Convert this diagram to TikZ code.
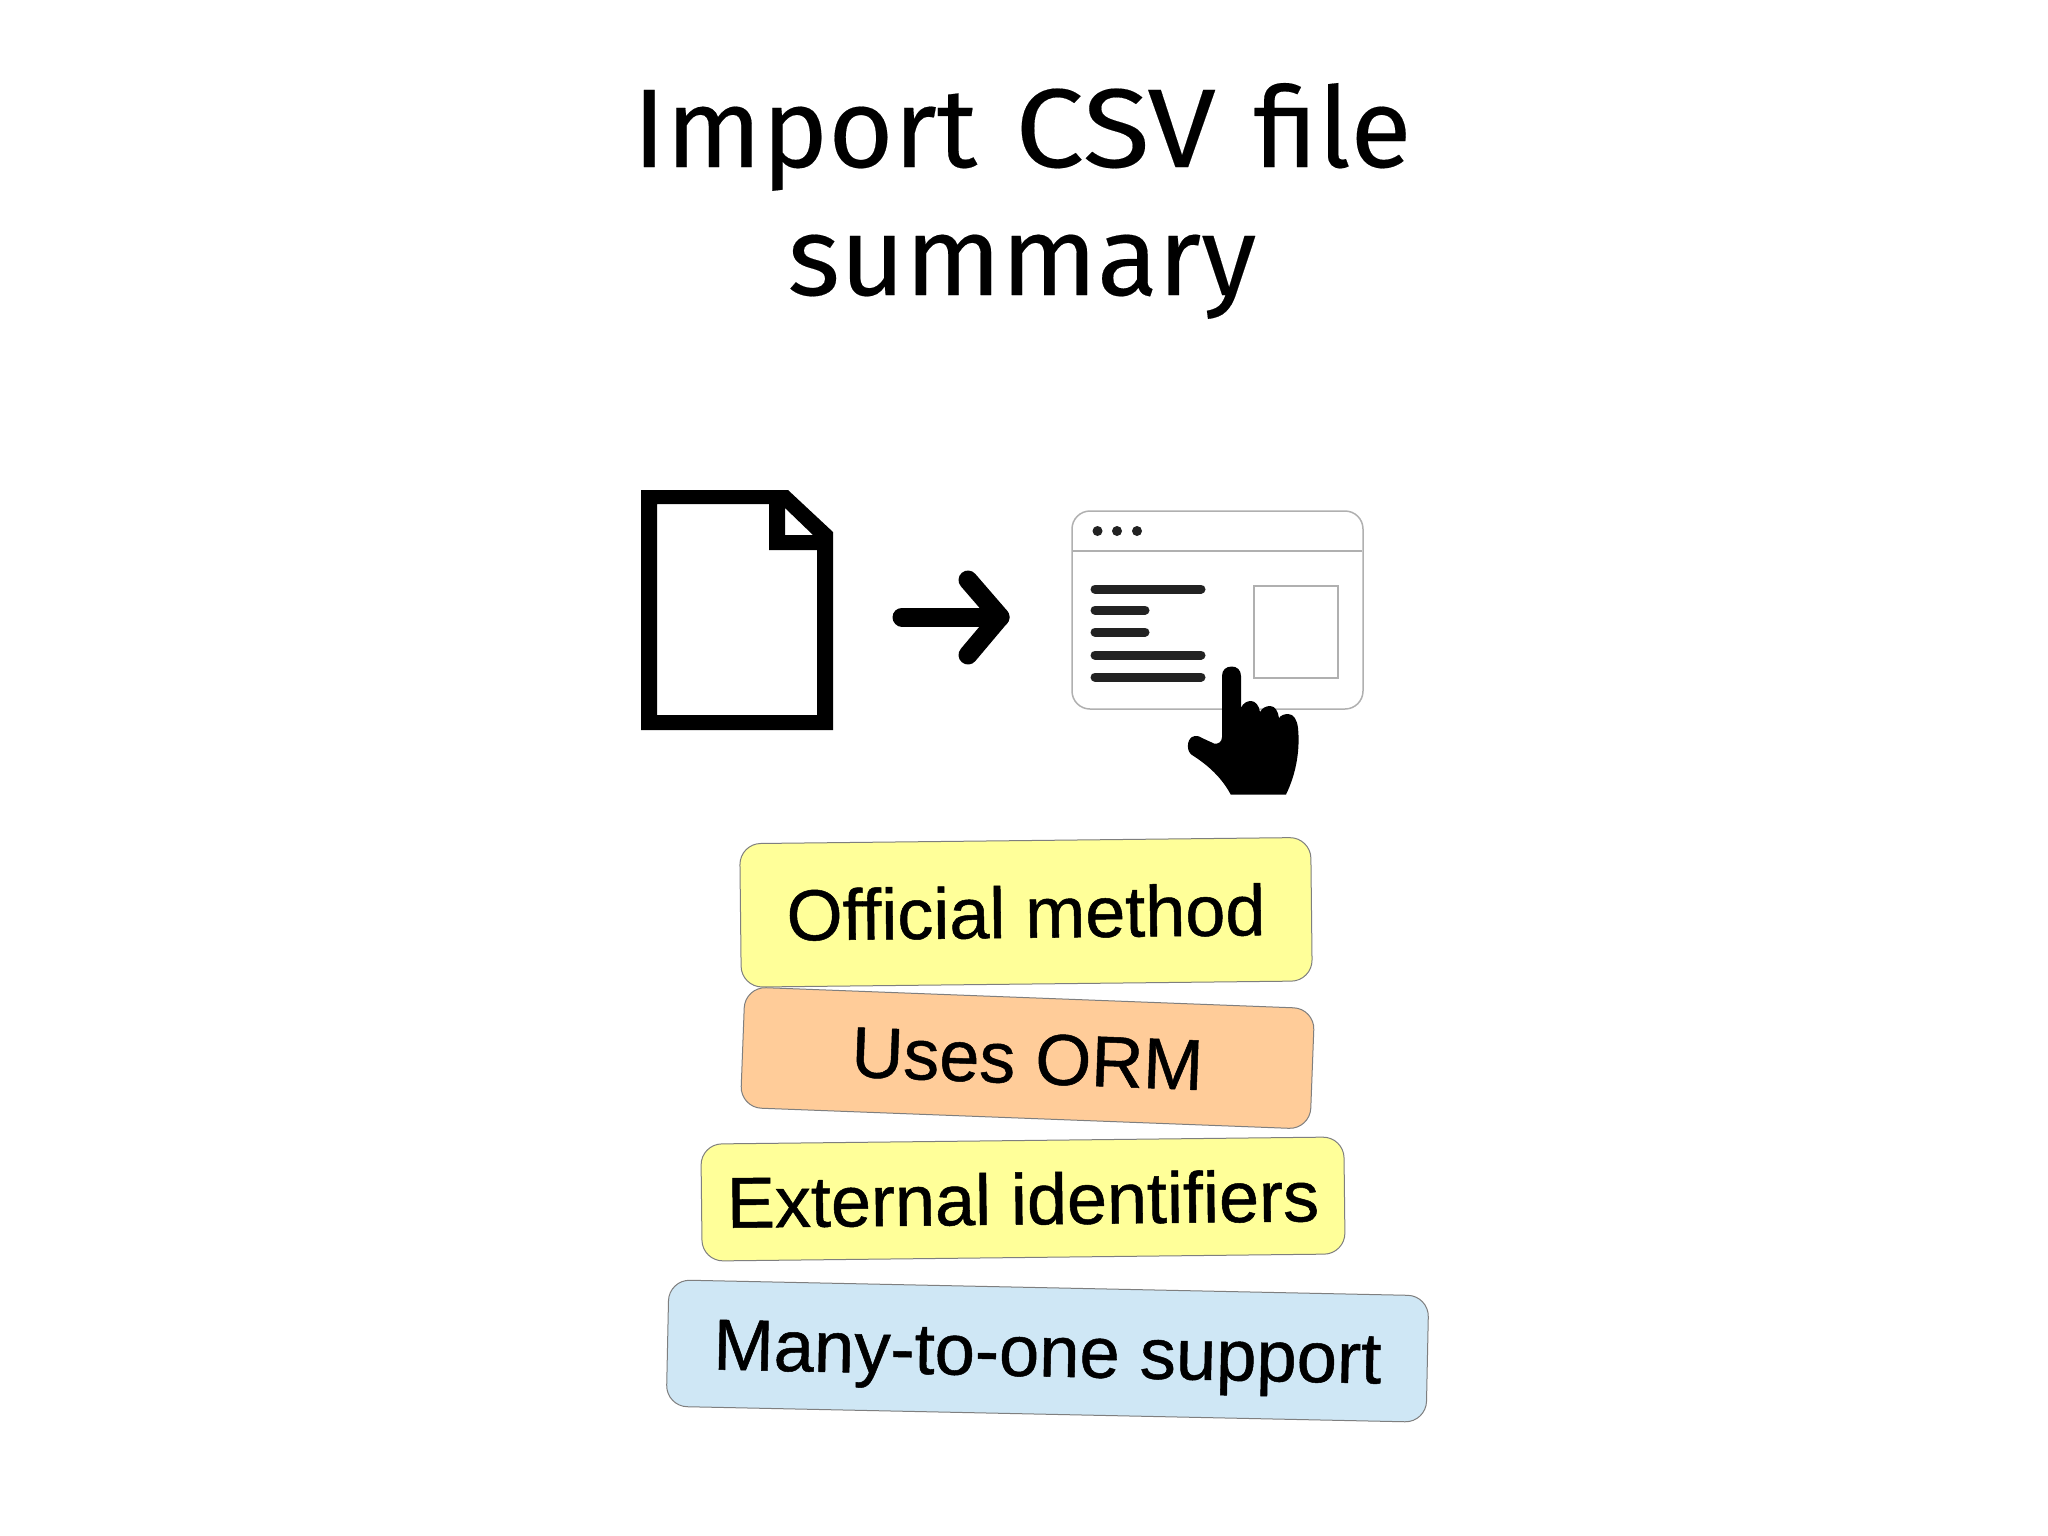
\documentclass[tikz,border=0pt]{standalone}
\usepackage{fontspec}
\setmainfont{Liberation Sans}
\newfontfamily\notefont[FakeBold=0.7]{Liberation Sans}
\newfontfamily\titlefont[FakeBold=0.15]{Fira Sans}
\definecolor{noteyellow}{HTML}{FFFF99}
\definecolor{noteorange}{HTML}{FFCC99}
\definecolor{noteblue}{HTML}{CFE7F5}
\definecolor{notegray}{HTML}{7F7F7F}
\definecolor{wingray}{HTML}{B0B0B0}
\definecolor{barblack}{HTML}{222222}
\tikzset{
  note/.style={draw=notegray,line width=1pt,rounded corners=21pt,inner sep=0pt,align=center,
    text height=51pt,text depth=0pt,font=\notefont\fontsize{72}{80}\selectfont},
  winline/.style={draw=wingray,line width=1.5pt},
  bar/.style={draw=barblack,line width=9pt,line cap=round},
  windot/.style={circle,fill=barblack,minimum size=10pt,inner sep=0pt},
  arrowline/.style={draw=black,line width=19pt,line cap=round,line join=round},
}
\begin{document}
\begin{tikzpicture}[x=1pt,y=-1pt]
\useasboundingbox (0,0) rectangle (2048,1535);
\fill[white] (0,0) rectangle (2048,1535);
% title
\node[font=\titlefont\fontsize{112}{128}\selectfont,align=center,inner sep=0pt,anchor=base] (title) at (1022,295) {Import\hspace{8pt} {\addfontfeature{FakeStretch=1.1}CSV}\hspace{8pt} file\\summary};
% file icon
\fill[black,even odd rule] (641,490) -- (788,490) -- (833,532) -- (833,730) -- (641,730) -- cycle
  (657,504) -- (769,504) -- (769,550) -- (817,550) -- (817,715) -- (657,715) -- cycle
  (785,508) -- (813,535) -- (785,535) -- cycle;
% arrow
\coordinate (arrowstart) at (902,617);
\coordinate (arrowtip) at (1000,617);
\coordinate (headtop) at (968,580);
\coordinate (headbottom) at (968,655);
\draw[arrowline] (arrowstart) -- (arrowtip);
\draw[arrowline] (headtop) -- (arrowtip) -- (headbottom);
% window
\draw[winline,rounded corners=18pt] (1072,511) rectangle (1363,709);
\draw[winline] (1073,551) -- (1362,551);
\node[windot] (dota) at (1097.5,531) {};
\node[windot] (dotb) at (1117,531) {};
\node[windot] (dotc) at (1137,531) {};
\draw[bar] (1095,589) -- (1201,589);
\draw[bar] (1095,610) -- (1145,610);
\draw[bar] (1095,632) -- (1145,632);
\draw[bar] (1095,655) -- (1201,655);
\draw[bar] (1095,677) -- (1201,677);
\draw[winline] (1254,586) rectangle (1338,678);
% hand
\fill[black] (1222,676)
  .. controls (1222,670) and (1226,666.5) .. (1231.7,666.5)
  .. controls (1237,666.5) and (1241,670) .. (1241,676)
  -- (1241,708)
  .. controls (1243,703) and (1247,701) .. (1251,701)
  .. controls (1255,701) and (1259,705) .. (1260,712)
  .. controls (1262,708) and (1266,706) .. (1270,706)
  .. controls (1275,706) and (1278,711) .. (1279,718)
  .. controls (1281,715) and (1285,714) .. (1288,714)
  .. controls (1294,714) and (1297,720) .. (1298,728)
  .. controls (1300,748) and (1297,772) .. (1286,794.5)
  -- (1230.7,794.5)
  .. controls (1222,778) and (1208,765) .. (1192,755)
  .. controls (1186,751) and (1187,740) .. (1192,737)
  .. controls (1196,735) and (1199,736) .. (1202,738)
  -- (1214,743.5)
  .. controls (1218,744.5) and (1222,742) .. (1222,737)
  -- cycle;
% notes
\node[note,fill=noteyellow,minimum width=571pt,minimum height=143.5pt,rotate=0.63] (official) at (1026,912.3) {Official method};
\node[note,fill=noteorange,minimum width=570pt,minimum height=120.6pt,rotate=-2.18] (orm) at (1027.5,1058) {Uses ORM};
\node[note,fill=noteyellow,minimum width=643pt,minimum height=117pt,rotate=0.64] (external) at (1023,1199) {External identifiers};
\node[note,fill=noteblue,minimum width=760pt,minimum height=126.5pt,rotate=-1.2] (manyone) at (1047.5,1351) {\fontsize{72.4}{80}\selectfont Many-to-one support};
\end{tikzpicture}
\end{document}
